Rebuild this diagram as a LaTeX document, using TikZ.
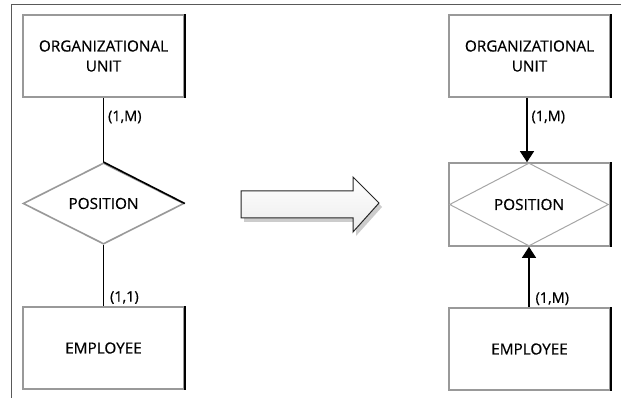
\documentclass[tikz,border=0pt]{standalone}
\usepackage{fontspec}
\setmainfont{Open Sans}[FakeBold=0.6,BoldFont={Open Sans}]
\usetikzlibrary{shapes.geometric,arrows.meta,shadows}
\tikzset{
  entity/.style={draw=gray!80, line width=1.6pt, minimum width=161pt, minimum height=82pt,
    inner sep=0pt, align=center, font=\fontsize{15.3}{20}\bfseries},
  relation/.style={diamond, draw=gray!80, line width=1.6pt, minimum width=161pt,
    minimum height=81pt, inner sep=0pt, font=\fontsize{15.3}{20}\bfseries},
  edgeline/.style={black, line width=1.1pt},
  shadeedge/.style={black, line width=2.2pt},
  card/.style={font=\fontsize{14.5}{16}\bfseries, inner sep=1pt},
  flow/.style={edgeline, -{Triangle[length=11pt,width=14pt]}},
}
\begin{document}
\begin{tikzpicture}[x=1pt,y=-1pt]
\useasboundingbox (0,0) rectangle (621,398);
% outer frame (top and left sides)
\draw[gray!70!black, line width=1pt] (11,398) -- (11,5) -- (621,5);

% ---- left: entity - relationship - entity ----
\node[entity] (ou1) at (103.5,56) {ORGANIZATIONAL\\UNIT};
\node[relation] (pos1) at (103.5,203.5) {POSITION};
\node[entity] (emp1) at (103.5,348) {EMPLOYEE};
\foreach \n in {ou1,emp1}
  \draw[shadeedge] (\n.north east) -- (\n.south east);
\draw[black, line width=1.6pt] (pos1.north) -- (pos1.east);
\draw[edgeline] (ou1.south) -- (pos1.north)
  node[card, pos=0.3, right=3pt] {(1,M)};
\draw[edgeline] (pos1.south) -- (emp1.north)
  node[card, pos=0.86, right=5pt] {(1,1)};

% ---- transformation arrow ----
\coordinate (a0) at (241,191);
\path[fill=gray!40] (244,195) -- (356,195) -- (356,181) -- (382,207) -- (356,236) -- (356,222) -- (244,222) -- cycle;
\draw[top color=white, bottom color=gray!15, draw=gray!30!black, line width=1pt]
  (a0) -- (353,191) -- (353,177) -- (379,203) -- (353,232) -- (353,218) -- (241,218) -- cycle;

% ---- right: associative entity ----
\node[entity] (ou2) at (529.5,56) {ORGANIZATIONAL\\UNIT};
\node[entity, minimum height=83pt] (pos2) at (529.5,204.5) {};
\node[relation, draw=gray!70, line width=1pt, minimum width=159pt, minimum height=83pt]
  (dia2) at (529,204.5) {POSITION};
\node[entity] (emp2) at (529.5,349) {EMPLOYEE};
\foreach \n in {ou2,pos2,emp2}
  \draw[shadeedge] (\n.north east) -- (\n.south east);
\draw[flow] (ou2.south -| 527,0) -- (pos2.north -| 527,0)
  node[card, pos=0.3, right=3pt] {(1,M)};
\draw[flow] (emp2.north -| 529,0) -- (pos2.south -| 529,0)
  node[card, pos=0.14, right=5pt] {(1,M)};
\end{tikzpicture}
\end{document}
